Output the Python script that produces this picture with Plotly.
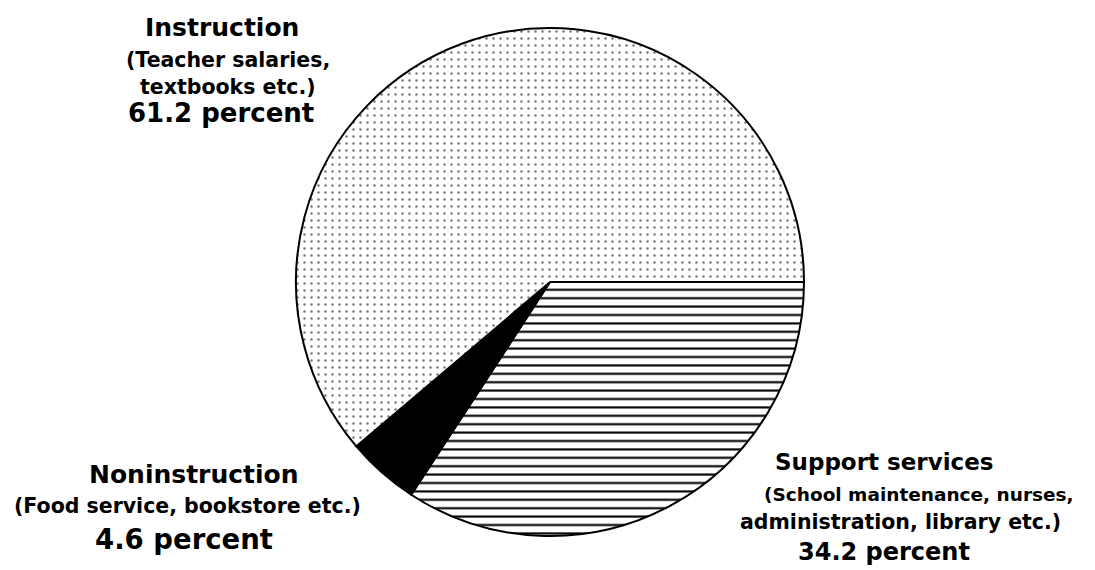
import plotly.graph_objects as go

W, H = 1095, 570

categories = ["Support services", "Noninstruction", "Instruction"]
values = [34.2, 4.6, 61.2]
descriptions = [
    ["(School maintenance, nurses,", "administration, library etc.)"],
    ["(Food service, bookstore etc.)"],
    ["(Teacher salaries,", "textbooks etc.)"],
]
percent_labels = ["34.2 percent", "4.6 percent", "61.2 percent"]

fig = go.Figure()
fig.add_trace(go.Pie(
    labels=categories,
    values=values,
    sort=False,
    direction="clockwise",
    rotation=90,
    textinfo="none",
    hoverinfo="label+percent",
    showlegend=False,
    marker=dict(
        colors=["white", "black", "white"],
        line=dict(color="black", width=2),
        pattern=dict(
            shape=["-", "", "."],
            fgcolor=["black", "black", "#777777"],
            bgcolor=["white", "black", "white"],
            size=[8.4, 8, 7],
            solidity=[0.25, 0.3, 0.1],
        ),
    ),
    domain=dict(x=[(550 - 254) / W, (550 + 254) / W],
                y=[1 - (282 + 254) / H, 1 - (282 - 254) / H]),
))

FONT = "DejaVu Sans"

def add_line(text, x, y, size):
    fig.add_annotation(
        text="<b>" + text + "</b>", x=x / W, y=1 - y / H, xref="paper", yref="paper",
        xanchor="center", yanchor="middle", showarrow=False,
        font=dict(family=FONT, size=size, color="black"),
    )

TITLE, SUB, PCT = 25, 20.5, 26

# Instruction block
add_line(categories[2], 222, 27, TITLE)
add_line(descriptions[2][0], 228, 60, SUB)
add_line(descriptions[2][1], 228, 87, SUB)
add_line(percent_labels[2], 221, 113, PCT)

# Noninstruction block
add_line(categories[1], 194, 474, TITLE)
add_line(descriptions[1][0], 187, 506, SUB)
add_line(percent_labels[1], 184, 539, 27.5)

# Support services block
add_line(categories[0], 884, 462, 23)
add_line(descriptions[0][0], 919, 494, 18.5)
add_line(descriptions[0][1], 900, 522, SUB)
add_line(percent_labels[0], 884, 552, 24)

fig.update_layout(
    width=W, height=H,
    margin=dict(l=0, r=0, t=0, b=0),
    paper_bgcolor="white", plot_bgcolor="white",
)

fig.write_html("out.html", config={"displayModeBar": False},
               post_script="document.body.style.margin='0';")
